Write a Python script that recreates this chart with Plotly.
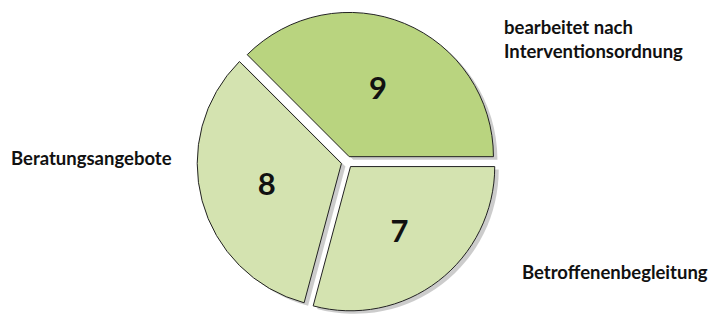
import plotly.graph_objects as go

labels = ["bearbeitet nach Interventionsordnung", "Betroffenenbegleitung", "Beratungsangebote"]
values = [9, 7, 8]
colors = ["#b9d47f", "#d4e3b0", "#d4e3b0"]
pulls = [0.04, 0.04, 0.04]

W, H = 713, 315
cx, cy, half = 347, 162, 150
x0, x1 = (cx - half) / W, (cx + half) / W
y0, y1 = (H - (cy + half)) / H, (H - (cy - half)) / H
dx, dy = 4 / W, 3 / H

fig = go.Figure()
# soft shadow
fig.add_trace(go.Pie(
    labels=labels, values=values, sort=False, direction="clockwise", rotation=-45,
    pull=pulls, marker=dict(colors=["rgba(0,0,0,0.2)"] * 3, line=dict(width=0)),
    textinfo="none", hoverinfo="skip", showlegend=False,
    domain=dict(x=[x0 + dx, x1 + dx], y=[max(0, y0 - dy), y1 - dy]),
))
fig.add_trace(go.Pie(
    labels=labels, values=values, sort=False, direction="clockwise", rotation=-45,
    pull=pulls, marker=dict(colors=colors, line=dict(color="#222222", width=1)),
    textinfo="value", textposition="inside", insidetextorientation="horizontal",
    textfont=dict(family="Lato", size=31, color="#111111", weight="bold"),
    showlegend=False,
    domain=dict(x=[x0, x1], y=[y0, y1]),
))

lab_font = dict(family="Lato", size=18.5, color="#111111", weight="bold")
fig.add_annotation(x=502 / W, y=1 - 39 / H, xref="paper", yref="paper", xanchor="left", yanchor="middle",
                   text="bearbeitet nach<br>Interventionsordnung", showarrow=False, align="left", font=lab_font)
fig.add_annotation(x=9 / W, y=1 - 158 / H, xref="paper", yref="paper", xanchor="left", yanchor="middle",
                   text="Beratungsangebote", showarrow=False, align="left", font=lab_font)
fig.add_annotation(x=520 / W, y=1 - 272 / H, xref="paper", yref="paper", xanchor="left", yanchor="middle",
                   text="Betroffenenbegleitung", showarrow=False, align="left", font=lab_font)

fig.update_layout(width=W, height=H, margin=dict(l=0, r=0, t=0, b=0),
                  paper_bgcolor="white", plot_bgcolor="white")
fig.write_html("out.html", config={"displayModeBar": False},
               post_script="document.body.style.margin='0';")
